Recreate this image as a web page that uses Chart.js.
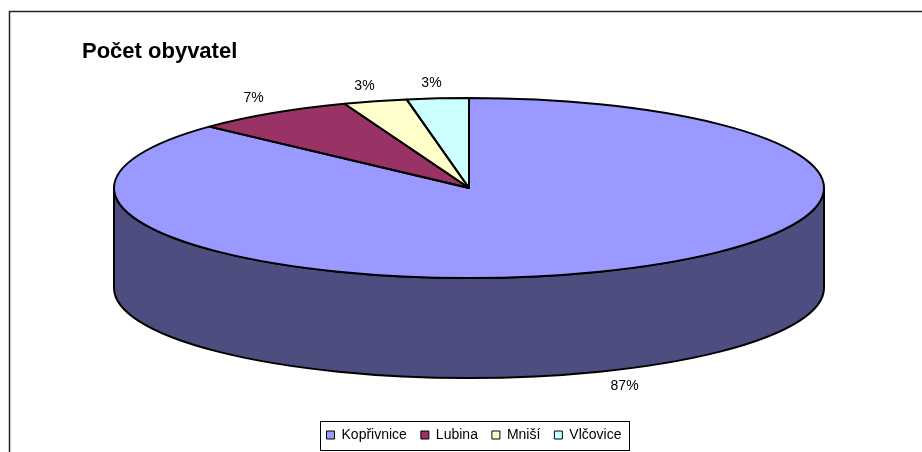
<!DOCTYPE html>
<html>
<head>
<meta charset="utf-8">
<script src="https://cdn.jsdelivr.net/npm/chart.js@4.4.1/dist/chart.umd.min.js"></script>
<style>
  html, body { margin: 0; padding: 0; background: #fff; }
  #graf { display: block; }
</style>
</head>
<body>
<canvas id="graf" width="922" height="452"></canvas>
<script>
var _obce = ["Kopřivnice", "Lubina", "Mniší", "Vlčovice"];
var _obyvatel = [20100, 1700, 670, 650];
var _barvy = ["#9999FF", "#993366", "#FFFFCC", "#CCFFFF"];
var _barvyBok = ["#4D4D80", "#4D1A33", "#808066", "#668080"];
var _nadpis = "Počet obyvatel";

// horni plocha kolace (elipsa) a vyska boku
var ELIPSA = { cx: 469, cy: 188, rx: 355, ry: 90, hloubka: 100 };
var PISMO = "'Liberation Sans', Arial, sans-serif";

var kolac3D = {
    id: "kolac3D",
    beforeDatasetsDraw: function (chart) {
        var ctx = chart.ctx;
        var e = ELIPSA;
        var oblouky = chart.getDatasetMeta(0).data;

        // boky - jen predni pulka (uhel 0 .. PI)
        ctx.save();
        ctx.lineWidth = 2;
        ctx.strokeStyle = "#000";
        oblouky.forEach(function (arc, i) {
            var a1 = Math.max(arc.startAngle, 0);
            var a2 = Math.min(arc.endAngle, Math.PI);
            if (a2 <= a1) return;
            ctx.beginPath();
            ctx.ellipse(e.cx, e.cy, e.rx, e.ry, 0, a1, a2);
            ctx.ellipse(e.cx, e.cy + e.hloubka, e.rx, e.ry, 0, a2, a1, true);
            ctx.closePath();
            ctx.fillStyle = _barvyBok[i];
            ctx.fill();
            ctx.stroke();
        });
        ctx.restore();

        // kruh z chart.js roztahnout na elipsu
        var a0 = oblouky[0];
        ctx.save();
        ctx.translate(e.cx, e.cy);
        ctx.scale(e.rx / a0.outerRadius, e.ry / a0.outerRadius);
        ctx.translate(-a0.x, -a0.y);
    },
    afterDatasetsDraw: function (chart) {
        var ctx = chart.ctx;
        var e = ELIPSA;
        var oblouky = chart.getDatasetMeta(0).data;
        ctx.restore();

        ctx.save();
        ctx.lineWidth = 2;
        ctx.strokeStyle = "#000";
        ctx.lineJoin = "round";
        oblouky.forEach(function (arc) {
            ctx.beginPath();
            ctx.moveTo(e.cx, e.cy);
            ctx.ellipse(e.cx, e.cy, e.rx, e.ry, 0, arc.startAngle, arc.endAngle);
            ctx.closePath();
            ctx.stroke();
        });

        // popisky s procenty
        var soucet = _obyvatel.reduce(function (a, b) { return a + b; }, 0);
        ctx.fillStyle = "#000";
        ctx.font = "14px " + PISMO;
        ctx.textAlign = "center";
        ctx.textBaseline = "middle";
        oblouky.forEach(function (arc, i) {
            var m = (arc.startAngle + arc.endAngle) / 2;
            var c = Math.cos(m), s = Math.sin(m);
            var x = e.cx + (e.rx + 25) * c + Math.sign(c) * 4;
            var y = e.cy + (e.ry - 3) * s + Math.sign(s) * 18 + (s > 0 ? e.hloubka : 0);
            ctx.fillText(Math.round(_obyvatel[i] / soucet * 100) + "%", x, y);
        });
        ctx.restore();
    },
    afterDraw: function (chart) {
        var ctx = chart.ctx;
        ctx.save();
        // ramecek grafu
        ctx.strokeStyle = "#222";
        ctx.lineWidth = 1.5;
        ctx.beginPath();
        ctx.moveTo(9.5, 460);
        ctx.lineTo(9.5, 11.5);
        ctx.lineTo(930, 11.5);
        ctx.stroke();

        // ramecek legendy
        var boxy = chart.legend.legendHitBoxes;
        var l = Math.min.apply(null, boxy.map(function (b) { return b.left; }));
        var r = Math.max.apply(null, boxy.map(function (b) { return b.left + b.width; }));
        var stred = boxy[0].top + boxy[0].height / 2;
        ctx.strokeStyle = "#000";
        ctx.lineWidth = 1;
        ctx.strokeRect(Math.round(l - 7) + 0.5, Math.round(stred - 14.5) + 0.5, Math.round(r - l + 14), 29);
        ctx.restore();
    }
};

var generovatPopisky = Chart.overrides.pie.plugins.legend.labels.generateLabels;

new Chart(document.getElementById("graf"), {
    type: "pie",
    data: {
        labels: _obce,
        datasets: [{
            data: _obyvatel,
            backgroundColor: _barvy,
            borderWidth: 0
        }]
    },
    options: {
        responsive: false,
        animation: false,
        events: [],
        layout: { padding: { left: 82, right: 56, top: 0, bottom: 0 } },
        plugins: {
            title: {
                display: true,
                text: _nadpis,
                align: "start",
                color: "#000",
                font: { family: PISMO, size: 22, weight: "bold" },
                padding: { top: 39, bottom: 10 }
            },
            legend: {
                position: "bottom",
                labels: {
                    color: "#000",
                    font: { family: PISMO, size: 14 },
                    boxWidth: 8,
                    boxHeight: 8,
                    padding: 14,
                    generateLabels: function (chart) {
                        return generovatPopisky(chart).map(function (p) {
                            p.strokeStyle = "#000";
                            p.lineWidth = 1;
                            return p;
                        });
                    }
                }
            },
            tooltip: { enabled: false }
        }
    },
    plugins: [kolac3D]
});
</script>
</body>
</html>
